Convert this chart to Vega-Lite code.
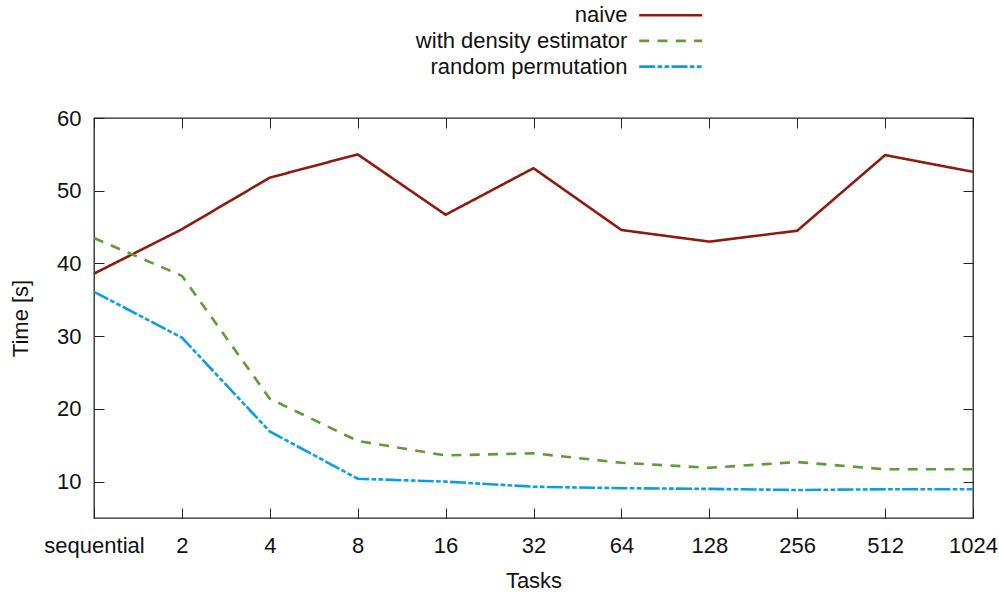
{
  "$schema": "https://vega.github.io/schema/vega-lite/v6.json",
  "autosize": {"type": "none"},
  "width": 879,
  "height": 400,
  "padding": {"left": 94, "top": 118, "right": 26, "bottom": 74},
  "background": "white",
  "config": {
    "view": {"stroke": "#222", "strokeWidth": 1.3},
    "font": "Liberation Sans",
    "axis": {
      "labelFont": "Liberation Sans",
      "labelFontSize": 22,
      "labelColor": "#111",
      "titleFont": "Liberation Sans",
      "titleFontSize": 22,
      "titleFontWeight": "normal",
      "titleColor": "#111",
      "grid": false,
      "domain": false,
      "tickColor": "#222",
      "tickWidth": 1,
      "tickSize": -10
    },
    "legend": {
      "symbolType": "M-3,0H3",
      "symbolSize": 441,
      "symbolStrokeWidth": 2.6,
      "rowPadding": 2.7,
      "labelAlign": "right",
      "labelOffset": -55.3,
      "labelFont": "Liberation Sans",
      "labelFontSize": 22,
      "labelColor": "#111",
      "labelLimit": 400
    }
  },
  "data": {
    "values": [
      {"tasks": "sequential", "series": "naive", "time": 38.6},
      {"tasks": "2", "series": "naive", "time": 44.7},
      {"tasks": "4", "series": "naive", "time": 51.8},
      {"tasks": "8", "series": "naive", "time": 55.0},
      {"tasks": "16", "series": "naive", "time": 46.7},
      {"tasks": "32", "series": "naive", "time": 53.1},
      {"tasks": "64", "series": "naive", "time": 44.6},
      {"tasks": "128", "series": "naive", "time": 43.0},
      {"tasks": "256", "series": "naive", "time": 44.5},
      {"tasks": "512", "series": "naive", "time": 54.9},
      {"tasks": "1024", "series": "naive", "time": 52.6},
      {"tasks": "sequential", "series": "with density estimator", "time": 43.5},
      {"tasks": "2", "series": "with density estimator", "time": 38.3},
      {"tasks": "4", "series": "with density estimator", "time": 21.4},
      {"tasks": "8", "series": "with density estimator", "time": 15.6},
      {"tasks": "16", "series": "with density estimator", "time": 13.6},
      {"tasks": "32", "series": "with density estimator", "time": 13.9},
      {"tasks": "64", "series": "with density estimator", "time": 12.6},
      {"tasks": "128", "series": "with density estimator", "time": 11.9},
      {"tasks": "256", "series": "with density estimator", "time": 12.7},
      {"tasks": "512", "series": "with density estimator", "time": 11.7},
      {"tasks": "1024", "series": "with density estimator", "time": 11.7},
      {"tasks": "sequential", "series": "random permutation", "time": 36.1},
      {"tasks": "2", "series": "random permutation", "time": 29.8},
      {"tasks": "4", "series": "random permutation", "time": 16.9},
      {"tasks": "8", "series": "random permutation", "time": 10.4},
      {"tasks": "16", "series": "random permutation", "time": 10.0},
      {"tasks": "32", "series": "random permutation", "time": 9.3},
      {"tasks": "64", "series": "random permutation", "time": 9.1},
      {"tasks": "128", "series": "random permutation", "time": 9.0},
      {"tasks": "256", "series": "random permutation", "time": 8.85},
      {"tasks": "512", "series": "random permutation", "time": 8.95},
      {"tasks": "1024", "series": "random permutation", "time": 8.95}
    ]
  },
  "resolve": {"axis": {"x": "independent", "y": "independent"}},
  "layer": [
    {
      "mark": {"type": "line", "strokeWidth": 2.6, "strokeJoin": "miter"},
      "encoding": {
        "x": {
          "field": "tasks", "type": "ordinal",
          "sort": ["sequential", "2", "4", "8", "16", "32", "64", "128", "256", "512", "1024"],
          "scale": {"type": "point", "padding": 0},
          "axis": {"orient": "bottom", "title": "Tasks", "labelAngle": 0, "labelPadding": 27, "titlePadding": 14}
        },
        "y": {
          "field": "time", "type": "quantitative",
          "scale": {"domain": [5, 60], "nice": false, "zero": false},
          "axis": {"orient": "left", "title": "Time [s]", "values": [10, 20, 30, 40, 50, 60], "labelPadding": 23, "titlePadding": 24}
        },
        "color": {
          "field": "series", "type": "nominal",
          "scale": {
            "domain": ["naive", "with density estimator", "random permutation"],
            "range": ["#8e1b10", "#5e9c36", "#0a9ee2"]
          },
          "legend": {"title": null, "orient": "none", "legendX": 564.7, "legendY": -114.8}
        },
        "strokeDash": {
          "field": "series", "type": "nominal",
          "scale": {
            "domain": ["naive", "with density estimator", "random permutation"],
            "range": [[1, 0], [10, 8.3], [16, 2.3, 4.7, 2.3, 4.7, 2.3]]
          },
          "legend": {"title": null, "orient": "none", "legendX": 564.7, "legendY": -114.8}
        }
      }
    },
    {
      "mark": {"type": "point", "opacity": 0},
      "encoding": {
        "x": {
          "field": "tasks", "type": "ordinal",
          "sort": ["sequential", "2", "4", "8", "16", "32", "64", "128", "256", "512", "1024"],
          "axis": {"orient": "top", "title": null, "labels": false}
        },
        "y": {
          "field": "time", "type": "quantitative",
          "axis": {"orient": "right", "title": null, "labels": false, "values": [10, 20, 30, 40, 50, 60]}
        }
      }
    }
  ]
}
